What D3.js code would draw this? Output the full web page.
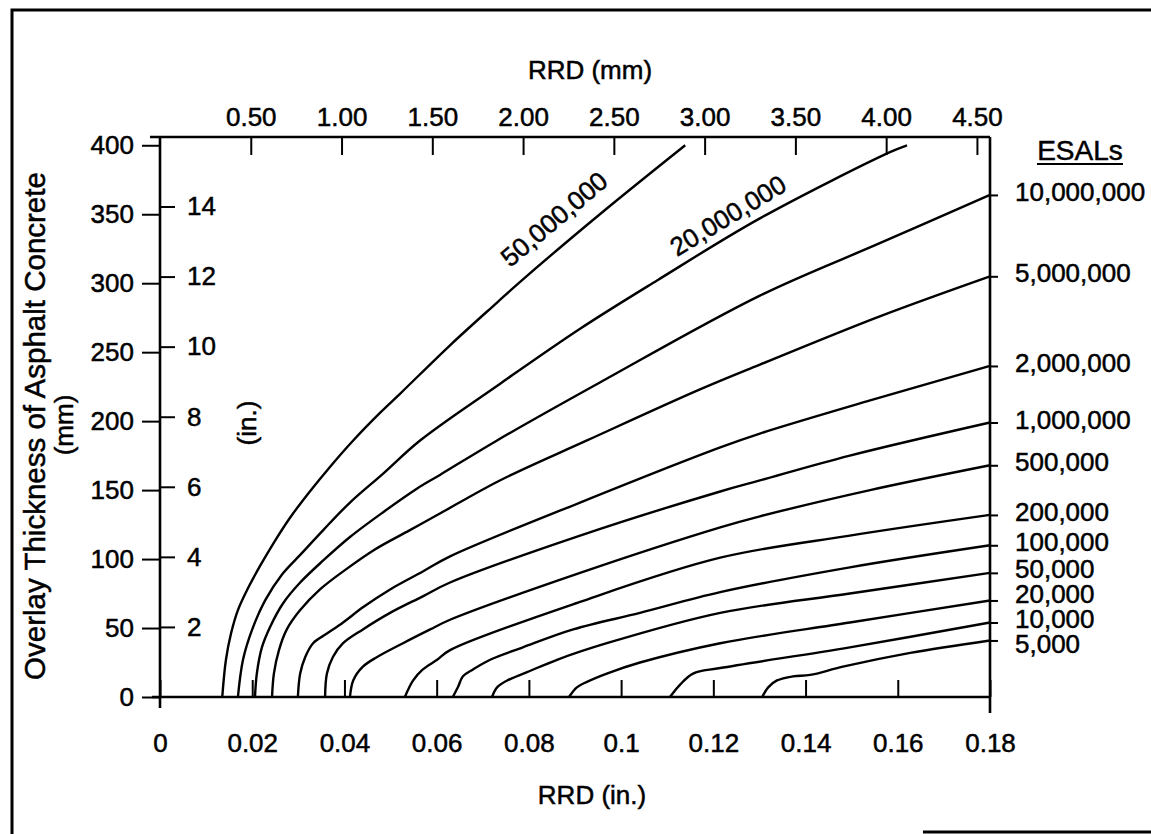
<!DOCTYPE html>
<html>
<head>
<meta charset="utf-8">
<script src="https://cdn.jsdelivr.net/npm/d3@7"></script>
<style>
  body { margin: 0; background: #fff; }
  svg { display: block; }
  text { stroke: #000; stroke-width: 0.5px; }
</style>
</head>
<body>
<script>
const w = 1151;
const h = 834;
const plotL = 160, plotR = 990, plotT = 137, plotB = 697;
const fontFam = '"Liberation Sans", Arial, sans-serif';

// curves: [RRD (in.), overlay thickness (mm)]
const esal50M = [[0.0135,0],[0.0143,27],[0.0154,46],[0.0169,63],[0.0191,79],[0.0217,95],[0.0247,112],[0.0282,130],[0.0325,149],[0.0369,167],[0.0419,186],[0.0477,206],[0.0521,220],[0.0629,255],[0.0731,286],[0.0781,301],[0.0954,350],[0.1139,400]];
const esal20M = [[0.0169,0],[0.0180,27],[0.0200,49],[0.0228,70],[0.0265,89],[0.0304,103],[0.0354,121],[0.0412,141],[0.0484,162],[0.0564,186],[0.0737,227],[0.0911,267],[0.1078,302],[0.1301,347],[0.1583,395],[0.1620,400]];
const esal10M = [[0.0206,0],[0.0210,17],[0.0221,36],[0.0239,51],[0.0267,68],[0.0304,83],[0.0354,99],[0.0412,116],[0.0484,134],[0.0557,151],[0.0607,161],[0.0731,186],[0.0954,228],[0.1301,291],[0.1561,329],[0.18,364]];
const esal5M = [[0.0243,0],[0.0247,17],[0.0258,34],[0.0275,49],[0.0304,63],[0.0347,78],[0.0401,92],[0.0466,107],[0.0542,121],[0.0607,133],[0.0737,157],[0.0926,186],[0.1171,223],[0.1301,241],[0.1561,276],[0.18,305]];
const esal2M = [[0.0299,0],[0.0304,17],[0.0315,29],[0.0332,39],[0.0362,46],[0.0397,54],[0.0440,65],[0.0499,78],[0.0570,91],[0.0629,102],[0.0911,141],[0.1215,181],[0.1301,191],[0.1540,215],[0.18,240]];
const esal1M = [[0.0358,0],[0.0362,17],[0.0375,29],[0.0397,39],[0.0440,49],[0.0499,61],[0.0570,73],[0.0629,83],[0.0911,117],[0.1215,149],[0.1301,157],[0.1496,175],[0.18,199]];
const esal500k = [[0.0412,0],[0.0419,12],[0.0440,22],[0.0471,29],[0.0527,39],[0.0586,49],[0.0629,56],[0.0911,90],[0.1215,123],[0.1301,131],[0.1540,150],[0.18,168]];
const esal200k = [[0.0531,0],[0.0549,12],[0.0570,20],[0.0601,27],[0.0629,34],[0.0911,69],[0.1215,101],[0.1496,117],[0.18,132]];
const esal100k = [[0.0635,0],[0.0646,7],[0.0657,15],[0.0679,20],[0.0716,27],[0.0787,36],[0.0896,49],[0.1041,61],[0.1215,76],[0.1496,94],[0.18,110]];
const esal50k = [[0.0720,0],[0.0731,7],[0.0753,12],[0.0796,18],[0.0861,27],[0.0969,39],[0.1215,61],[0.1496,75],[0.18,90]];
const esal20k = [[0.0887,0],[0.0904,7],[0.0926,11],[0.0969,17],[0.1041,25],[0.1215,39],[0.1496,54],[0.18,70]];
const esal10k = [[0.1106,0],[0.1128,9],[0.1156,17],[0.1215,21],[0.1496,36],[0.18,54]];
const esal5k = [[0.1306,0],[0.1319,7],[0.1338,12],[0.1373,15],[0.1410,16],[0.1481,22],[0.1627,32],[0.18,41]];

const curveNames = ["50,000,000","20,000,000","10,000,000","5,000,000","2,000,000","1,000,000","500,000","200,000","100,000","50,000","20,000","10,000","5,000"];
const curveData = [esal50M, esal20M, esal10M, esal5M, esal2M, esal1M, esal500k, esal200k, esal100k, esal50k, esal20k, esal10k, esal5k];

const inTicks = [0, 0.02, 0.04, 0.06, 0.08, 0.1, 0.12, 0.14, 0.16, 0.18];
const inTickLabels = ["0","0.02","0.04","0.06","0.08","0.1","0.12","0.14","0.16","0.18"];
const mmTopTicks = [0.5, 1, 1.5, 2, 2.5, 3, 3.5, 4, 4.5];
const mmTopLabels = ["0.50","1.00","1.50","2.00","2.50","3.00","3.50","4.00","4.50"];
const mmLeftTicks = [0, 50, 100, 150, 200, 250, 300, 350, 400];
const inLeftTicks = [2, 4, 6, 8, 10, 12, 14];

const xScale = d3.scaleLinear().domain([0, 0.18]).range([plotL, plotR]);
const xMm = d3.scaleLinear().domain([0, 0.18 * 25.4]).range([plotL, plotR]);
const yScale = d3.scaleLinear().domain([0, 406]).range([plotB, plotT]);
const yIn = d3.scaleLinear().domain([0, 406 / 25.4]).range([plotB, plotT]);

const svg = d3.select("body")
              .append("svg")
              .attr("width", w)
              .attr("height", h)

// scanned page frame
svg.append("path")
   .attr("d", "M12,834 L12,10 L1151,10 M923,832 L1151,832")
   .attr("fill", "none")
   .attr("stroke", "#000")
   .attr("stroke-width", 3)

function styleAxis(g) {
  g.select(".domain").remove()
  g.selectAll(".tick line").attr("stroke", "#000").attr("stroke-width", 2)
  g.selectAll(".tick text")
   .attr("font-family", fontFam)
   .attr("font-size", 26)
   .attr("fill", "#000")
}

// bottom: RRD (in.)
svg.append("g")
   .attr("transform", "translate(0," + plotB + ")")
   .call(d3.axisBottom(xScale).tickValues(inTicks)
           .tickFormat((d, i) => inTickLabels[i])
           .tickSizeInner(-17).tickSizeOuter(0).tickPadding(37))
   .call(styleAxis)

// top: RRD (mm)
svg.append("g")
   .attr("transform", "translate(0," + plotT + ")")
   .call(d3.axisTop(xMm).tickValues(mmTopTicks)
           .tickFormat((d, i) => mmTopLabels[i])
           .tickSizeInner(-18).tickSizeOuter(0).tickPadding(11))
   .call(styleAxis)

// left: thickness (mm)
svg.append("g")
   .attr("transform", "translate(" + plotL + ",0)")
   .call(d3.axisLeft(yScale).tickValues(mmLeftTicks).tickSize(18).tickPadding(8))
   .call(styleAxis)

// left inner: thickness (in.)
svg.append("g")
   .attr("transform", "translate(" + plotL + ",0)")
   .call(d3.axisRight(yIn).tickValues(inLeftTicks).tickSize(15).tickPadding(12))
   .call(styleAxis)

// right: short ticks where the curves end
const rightEnds = curveData.filter(c => c[c.length - 1][0] >= 0.18).map(c => c[c.length - 1][1]);
svg.append("g")
   .attr("transform", "translate(" + plotR + ",0)")
   .call(d3.axisRight(yScale).tickValues(rightEnds).tickFormat("").tickSize(8))
   .call(styleAxis)

// axis lines
const axisLines = [
  [plotL, plotT, plotL, plotB + 11],
  [plotL - 10, plotT, plotR, plotT],
  [plotR, plotT, plotR, plotB + 16],
  [plotL - 8, plotB, plotR, plotB]
];
svg.selectAll(".axline")
   .data(axisLines)
   .enter()
   .append("line")
   .attr("x1", d => d[0]).attr("y1", d => d[1])
   .attr("x2", d => d[2]).attr("y2", d => d[3])
   .attr("stroke", "#000")
   .attr("stroke-width", 2.6)

// ESAL curves
const line = d3.line()
               .x(d => xScale(d[0]))
               .y(d => yScale(d[1]))
               .curve(d3.curveCatmullRom.alpha(0.5))

svg.selectAll(".esal")
   .data(curveData)
   .enter()
   .append("path")
   .attr("class", "esal")
   .attr("d", line)
   .attr("fill", "none")
   .attr("stroke", "#000")
   .attr("stroke-width", 2.4)

// labels for the curves that run out the top
function yAt(c, x) {
  const i = Math.max(1, Math.min(c.length - 1, d3.bisector(d => d[0]).left(c, x)));
  const a = c[i - 1], b = c[i];
  const t = (x - a[0]) / (b[0] - a[0]);
  return a[1] + t * (b[1] - a[1]);
}
const topLabels = [[0, 0.0891, 26], [1, 0.1253, 19]];
topLabels.forEach(function(t) {
  const c = curveData[t[0]];
  const px = xScale(t[1]), py = yScale(yAt(c, t[1]));
  const px2 = xScale(t[1] + 0.004), py2 = yScale(yAt(c, t[1] + 0.004));
  const ang = Math.atan2(py2 - py, px2 - px);
  const cx = px + Math.sin(ang) * t[2], cy = py - Math.cos(ang) * t[2];
  svg.append("text")
     .attr("transform", "translate(" + cx + "," + cy + ") rotate(" + (ang * 180 / Math.PI) + ")")
     .attr("text-anchor", "middle")
     .attr("dy", "0.35em")
     .attr("font-family", fontFam)
     .attr("font-size", 26)
     .text(curveNames[t[0]])
})

// ESAL labels on the right, pushed apart where they crowd
const rightLab = curveData.map((c, i) => ({name: curveNames[i], y: yScale(c[c.length - 1][1]) - 3, end: c[c.length - 1][0]}))
                          .filter(d => d.end >= 0.18);
for (let k = 0; k < 200; k++) {
  for (let i = 0; i < rightLab.length - 1; i++) {
    const a = rightLab[i], b = rightLab[i + 1];
    const gap = b.y - a.y;
    if (gap < 25) {
      a.y -= (25 - gap) / 2;
      b.y += (25 - gap) / 2;
    }
  }
}
svg.selectAll(".esalLab")
   .data(rightLab)
   .enter()
   .append("text")
   .attr("x", plotR + 25)
   .attr("y", d => d.y)
   .attr("dy", "0.35em")
   .attr("font-family", fontFam)
   .attr("font-size", 26)
   .text(d => d.name)

svg.append("text")
   .attr("x", 1080)
   .attr("y", 160)
   .attr("text-anchor", "middle")
   .attr("font-family", fontFam)
   .attr("font-size", 28)
   .text("ESALs")
svg.append("line")
   .attr("x1", 1037).attr("x2", 1123)
   .attr("y1", 164).attr("y2", 164)
   .attr("stroke", "#000")
   .attr("stroke-width", 2)

// axis titles
svg.append("text")
   .attr("x", 590)
   .attr("y", 70)
   .attr("dy", "0.35em")
   .attr("text-anchor", "middle")
   .attr("font-family", fontFam)
   .attr("font-size", 26)
   .text("RRD (mm)")

svg.append("text")
   .attr("x", 592)
   .attr("y", 795)
   .attr("dy", "0.35em")
   .attr("text-anchor", "middle")
   .attr("font-family", fontFam)
   .attr("font-size", 26)
   .text("RRD (in.)")

const yTitles = [["Overlay Thickness of Asphalt Concrete", 35, 426, 29.5], ["(mm)", 64, 425, 26], ["(in.)", 247, 423, 26]];
svg.selectAll(".ytitle")
   .data(yTitles)
   .enter()
   .append("text")
   .attr("transform", d => "translate(" + d[1] + "," + d[2] + ") rotate(-90)")
   .attr("text-anchor", "middle")
   .attr("dy", "0.35em")
   .attr("font-family", fontFam)
   .attr("font-size", d => d[3])
   .text(d => d[0])
</script>
</body>
</html>
